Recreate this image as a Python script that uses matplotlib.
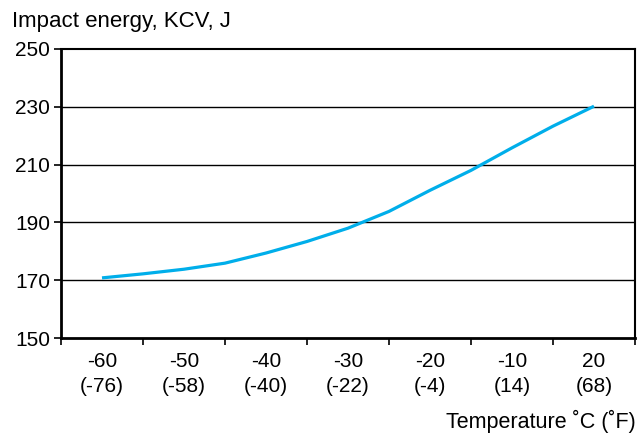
import matplotlib.pyplot as plt
import numpy as np

plt.rcParams['font.family'] = ['Liberation Sans', 'DejaVu Sans']

temps_c = ['-60', '-50', '-40', '-30', '-20', '-10', '20']
temps_f = ['(-76)', '(-58)', '(-40)', '(-22)', '(-4)', '(14)', '(68)']
# curve at category centres and half steps
curve_pos = [0, 0.5, 1, 1.5, 2, 2.5, 3, 3.5, 4, 4.5, 5, 5.5, 6]
curve_kcv = [170.8, 172.2, 173.8, 175.9, 179.4, 183.4, 188.0, 193.8, 201.1, 208.0, 215.8, 223.3, 230.2]
y_ticks = [150, 170, 190, 210, 230, 250]

fig = plt.figure(figsize=(6.44, 4.33), dpi=100)
ax = fig.add_axes([61/644, 1-338/433, (635-61)/644, (338-49)/433])

ax.plot(curve_pos, curve_kcv, color='#00aeea', lw=2.3, solid_capstyle='butt', zorder=3)

ax.set_xlim(-0.5, len(temps_c) - 0.5)
ax.set_ylim(150, 250)
ax.set_yticks(y_ticks)
ax.set_yticklabels([str(v) for v in y_ticks], fontsize=15)
for v in y_ticks[1:-1]:
    ax.axhline(v, color='black', lw=1.0, zorder=1)

ax.set_xticks(range(len(temps_c)))
ax.set_xticklabels([c + '\n' + f for c, f in zip(temps_c, temps_f)], fontsize=15, linespacing=1.4)
ax.tick_params(axis='x', which='major', length=0, pad=10)
ax.set_xticks(np.arange(-0.5, len(temps_c)), minor=True)
ax.tick_params(axis='x', which='minor', length=5, width=1.2, direction='out')
ax.tick_params(axis='y', length=5, width=1.2, direction='out', pad=3)

for side in ['left', 'bottom']:
    ax.spines[side].set_linewidth(2.0)
for side in ['top', 'right']:
    ax.spines[side].set_linewidth(1.5)

fig.text(12/644, 1-21/433, 'Impact energy, KCV, J', fontsize=16, va='center', ha='left')
fig.text(636/644, 1-421/433, 'Temperature \u02daC (\u02daF)', fontsize=15.5, va='center', ha='right')

fig.savefig('out.png', dpi=100)
